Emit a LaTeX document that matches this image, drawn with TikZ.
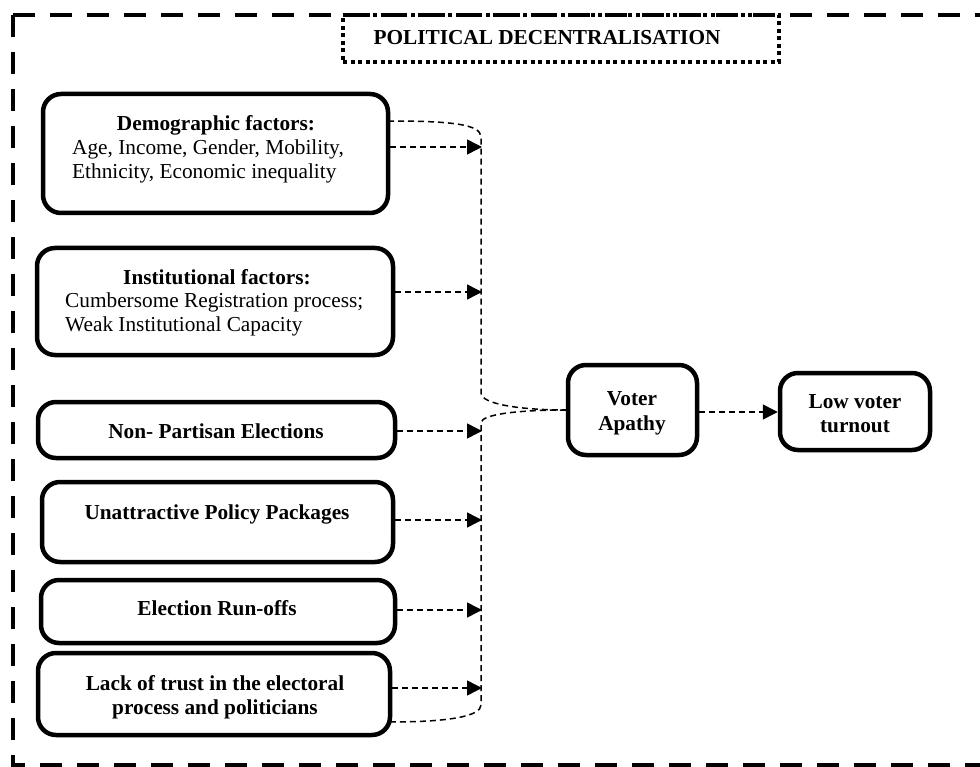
\documentclass[tikz,border=0pt]{standalone}
\usepackage{fontspec}
\setmainfont{Liberation Serif}
\usetikzlibrary{arrows.meta}
\begin{document}
\begin{tikzpicture}[x=1pt,y=-1pt,
  factor/.style={draw, line width=4.5pt, rounded corners=18pt, inner sep=0pt},
  conn/.style={line width=1.5pt, dash pattern=on 6pt off 4pt},
  arr/.style={conn, -{Triangle[length=15pt,width=15pt]}},
  txt/.style={font=\fontsize{21.3}{24}\selectfont, inner sep=0pt},
  btxt/.style={font=\fontsize{21.3}{24}\selectfont\bfseries, inner sep=0pt},
  frame/.style={line width=4.5pt, dash pattern=on 22pt off 15pt},
]
\useasboundingbox (0,0) rectangle (980,767);
% outer frame
\draw[frame] (13,15) -- (995,15);
\draw[frame] (13,15) -- (13,765) -- (995,765);
% title
\node[draw, line width=3.5pt, dash pattern=on 4pt off 3.5pt, minimum width=436pt, minimum height=47pt, inner sep=0pt] (titlebox) at (561,38.5) {};
\node[btxt, anchor=base] (title) at (547,45) {POLITICAL DECENTRALISATION};
% factor boxes
\node[factor, minimum width=345pt, minimum height=119pt] (demo) at (215.5,153.5) {};
\node[factor, minimum width=356pt, minimum height=107pt] (inst) at (215,301.5) {};
\node[factor, minimum width=357pt, minimum height=56pt] (nonp) at (216.5,430) {};
\node[factor, minimum width=351pt, minimum height=80pt] (unat) at (217.5,522) {};
\node[factor, minimum width=354pt, minimum height=63pt] (elec) at (218,611.5) {};
\node[factor, minimum width=352pt, minimum height=82pt] (lack) at (214,694) {};
\node[factor, minimum width=129pt, minimum height=90pt] (voter) at (632.5,410) {};
\node[factor, minimum width=150pt, minimum height=77pt] (low) at (855,411.5) {};
% texts
\node[btxt, anchor=base] (demo1) at (216,131) {Demographic factors:};
\node[txt, anchor=base west] (demo2) at (72,155) {Age, Income, Gender, Mobility,};
\node[txt, anchor=base west] (demo3) at (72,179) {Ethnicity, Economic inequality};
\node[btxt, anchor=base] (inst1) at (217,285) {Institutional factors:};
\node[txt, anchor=base west] (inst2) at (65,308) {Cumbersome Registration process;};
\node[txt, anchor=base west] (inst3) at (65,332) {Weak Institutional Capacity};
\node[btxt, anchor=base] (nonpt) at (216,438) {Non- Partisan Elections};
\node[btxt, anchor=base] (unatt) at (217,519) {Unattractive Policy Packages};
\node[btxt, anchor=base] (elect) at (217,615) {Election Run-offs};
\node[btxt, anchor=base] (lack1) at (215,690) {Lack of trust in the electoral};
\node[btxt, anchor=base] (lack2) at (215,714) {process and politicians};
\node[btxt, anchor=base] (voter1) at (632,405) {Voter};
\node[btxt, anchor=base] (voter2) at (632,430) {Apathy};
\node[btxt, anchor=base] (low1) at (855,408) {Low voter};
\node[btxt, anchor=base] (low2) at (855,432) {turnout};
% arrow targets on the spine
\coordinate (a1) at (482,147);
\coordinate (a2) at (482,292);
\coordinate (a3) at (482,431);
\coordinate (a4) at (482,520);
\coordinate (a5) at (482,610);
\coordinate (a6) at (482,688);
\coordinate (top) at (388,121);
\coordinate (bot) at (390,722);
\coordinate (va) at (697,412);
\draw[arr] (demo.east |- a1) -- (a1);
\draw[arr] (inst.east |- a2) -- (a2);
\draw[arr] (nonp.east |- a3) -- (a3);
\draw[arr] (unat.east |- a4) -- (a4);
\draw[arr] (elec.east |- a5) -- (a5);
\draw[arr] (lack.east |- a6) -- (a6);
% brace
\draw[conn] (top) .. controls (450,121) and (481,124) .. (481,137) -- (481,393)
  .. controls (481,404) and (520,410) .. (voter.west);
\draw[conn] (voter.west) .. controls (520,410) and (481,414) .. (481,423) -- (481,705)
  .. controls (481,716) and (450,722) .. (bot);
\draw[arr] (voter.east |- va) -- (low.west |- va);
\end{tikzpicture}
\end{document}
